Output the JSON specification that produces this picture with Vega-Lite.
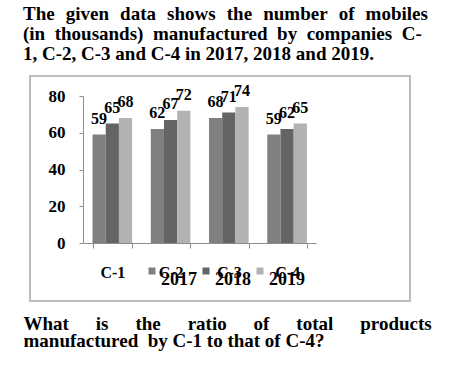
{
  "$schema": "https://vega.github.io/schema/vega-lite/v6.json",
  "width": 380,
  "height": 225,
  "autosize": {"type": "none"},
  "padding": {"left": 30, "top": 76, "right": 42, "bottom": 89},
  "background": "white",
  "title": {
    "text": [
      "The\u2005\u2004given\u2005\u2004data\u2005\u2004shows\u2005\u2004the\u2005\u2004number\u2005\u2004of\u2005\u2004mobiles",
      "(in\u2002thousands)\u2002manufactured\u2002by\u2002companies\u2002C-",
      "1, C-2, C-3 and C-4 in 2017, 2018 and 2019."
    ],
    "anchor": "start",
    "frame": "group",
    "dx": -7,
    "fontSize": 19,
    "fontWeight": "bold",
    "color": "black",
    "lineHeight": 20,
    "offset": 12
  },
  "data": {
    "values": [
      {"company": "C-1", "year": "2017", "value": 59},
      {"company": "C-1", "year": "2018", "value": 65},
      {"company": "C-1", "year": "2019", "value": 68},
      {"company": "C-2", "year": "2017", "value": 62},
      {"company": "C-2", "year": "2018", "value": 67},
      {"company": "C-2", "year": "2019", "value": 72},
      {"company": "C-3", "year": "2017", "value": 68},
      {"company": "C-3", "year": "2018", "value": 71},
      {"company": "C-3", "year": "2019", "value": 74},
      {"company": "C-4", "year": "2017", "value": 59},
      {"company": "C-4", "year": "2018", "value": 62},
      {"company": "C-4", "year": "2019", "value": 65}
    ]
  },
  "encoding": {
    "x": {
      "field": "company",
      "type": "nominal",
      "scale": {"range": [53.2, 286.2], "paddingInner": 0.32, "paddingOuter": 0.16},
      "axis": {
        "orient": "bottom",
        "offset": -58,
        "domainColor": "#8c8c8c",
        "tickColor": "#8c8c8c",
        "tickSize": 5,
        "tickBand": "extent",
        "labelAngle": 0,
        "labelFontWeight": "bold",
        "labelFontSize": 16,
        "labelColor": "black",
        "labelPadding": 16,
        "title": [
          "What\u2003\u2004\u200Ais\u2003\u2004\u200Athe\u2003\u2004\u200Aratio\u2003\u2004\u200Aof\u2003\u2004\u200Atotal\u2003\u2004\u200Aproducts",
          "manufactured\u2002by C-1 to that of C-4?"
        ],
        "titleX": -7,
        "titleY": 86,
        "titleAlign": "left",
        "titleAnchor": "start",
        "titleBaseline": "alphabetic",
        "titleFontSize": 19,
        "titleFontWeight": "bold",
        "titleColor": "black",
        "titleLineHeight": 17,
        "titleAngle": 0
      }
    },
    "xOffset": {"field": "year", "type": "nominal", "scale": {"paddingInner": 0, "paddingOuter": 0}},
    "y": {
      "field": "value",
      "type": "quantitative",
      "scale": {"domain": [0, 80], "range": [167, 20], "nice": false, "zero": true},
      "axis": {
        "orient": "left",
        "offset": -53,
        "values": [0, 20, 40, 60, 80],
        "grid": false,
        "domainColor": "#8c8c8c",
        "tickColor": "#8c8c8c",
        "tickSize": 4,
        "labelPadding": 14,
        "labelFontWeight": "bold",
        "labelFontSize": 17,
        "labelColor": "black",
        "title": null
      }
    }
  },
  "layer": [
    {
      "mark": {"type": "bar"},
      "encoding": {
        "y2": {"datum": 0},
        "color": {
          "field": "year",
          "type": "nominal",
          "scale": {"domain": ["2017", "2018", "2019"], "range": ["#808080", "#646464", "#b2b2b2"]},
          "legend": {
            "orient": "none",
            "legendX": 113,
            "legendY": 186,
            "direction": "horizontal",
            "title": null,
            "symbolType": "square",
            "symbolSize": 49,
            "symbolStrokeWidth": 0,
            "labelFontWeight": "bold",
            "labelFontSize": 18,
            "labelColor": "black",
            "labelOffset": 0,
            "labelBaseline": "top",
            "columnPadding": 0,
            "padding": 0
          }
        }
      }
    },
    {
      "mark": {
        "type": "text",
        "baseline": "alphabetic",
        "dy": -11,
        "fontWeight": "bold",
        "fontSize": 16,
        "color": "black"
      },
      "encoding": {"text": {"field": "value", "type": "quantitative"}}
    }
  ],
  "config": {
    "font": "'Liberation Serif', 'Times New Roman', serif",
    "view": {"stroke": "#bdbdbd", "strokeWidth": 2}
  }
}
